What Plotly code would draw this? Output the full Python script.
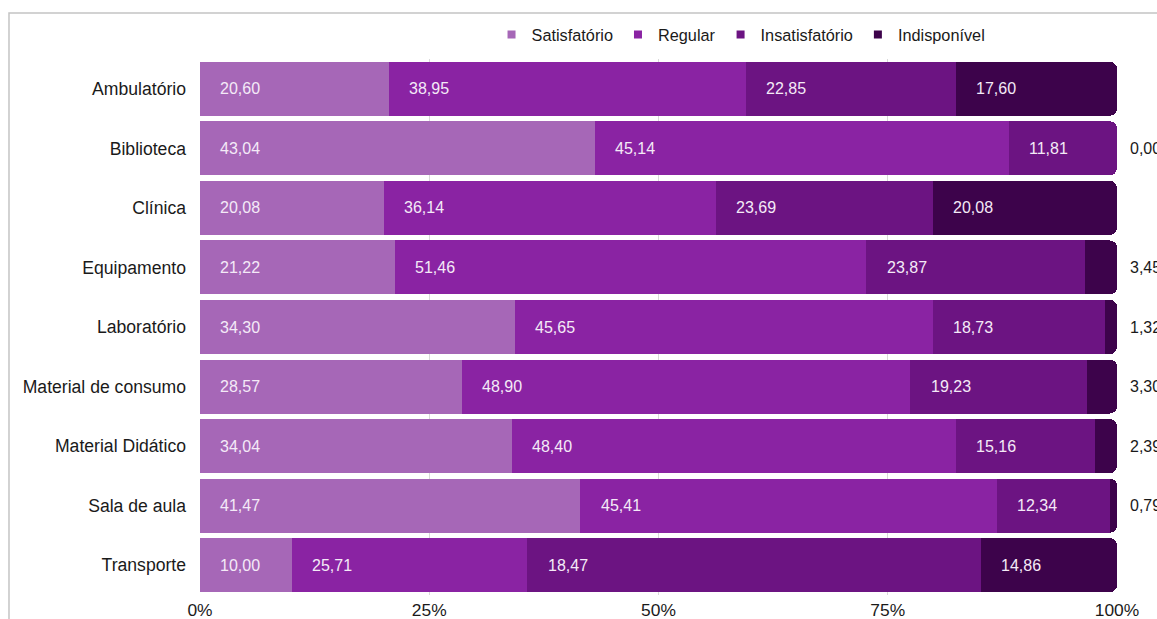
import plotly.graph_objects as go

categories = ["Ambulatório", "Biblioteca", "Clínica", "Equipamento", "Laboratório",
              "Material de consumo", "Material Didático", "Sala de aula", "Transporte"]

series_names = ["Satisfatório", "Regular", "Insatisfatório", "Indisponível"]
series_colors = ["#a667b7", "#8a23a3", "#6c1482", "#3d034b"]

# bar widths (percent of each row), as drawn
satisfatorio = [20.60, 43.04, 20.08, 21.22, 34.30, 28.57, 34.04, 41.47, 10.00]
regular = [38.95, 45.14, 36.14, 51.46, 45.65, 48.90, 48.40, 45.41, 25.71]
insatisfatorio = [22.85, 11.81, 23.69, 23.87, 18.73, 19.23, 15.16, 12.34, 49.43]
indisponivel = [17.60, 0.00, 20.08, 3.45, 1.32, 3.30, 2.39, 0.79, 14.86]

# data labels as printed on the chart
labels_satisfatorio = ["20,60", "43,04", "20,08", "21,22", "34,30", "28,57", "34,04", "41,47", "10,00"]
labels_regular = ["38,95", "45,14", "36,14", "51,46", "45,65", "48,90", "48,40", "45,41", "25,71"]
labels_insatisfatorio = ["22,85", "11,81", "23,69", "23,87", "18,73", "19,23", "15,16", "12,34", "18,47"]
labels_indisponivel = ["17,60", "0,00", "20,08", "3,45", "1,32", "3,30", "2,39", "0,79", "14,86"]

x_tickvals = [0, 25, 50, 75, 100]
x_ticktext = ["0%", "25%", "50%", "75%", "100%"]

values = [satisfatorio, regular, insatisfatorio, indisponivel]
labels = [labels_satisfatorio, labels_regular, labels_insatisfatorio, labels_indisponivel]

FONT = "Liberation Sans, Arial, sans-serif"
fig = go.Figure()

for name, vals, color in zip(series_names, values, series_colors):
    fig.add_trace(go.Bar(
        y=categories, x=vals, orientation="h", name=name,
        marker=dict(color=color, line=dict(width=0)),
        showlegend=False, hoverinfo="x+y+name",
    ))

# legend entries (small square markers)
for name, color in zip(series_names, series_colors):
    fig.add_trace(go.Scatter(
        x=[None], y=[None], mode="markers", name=name,
        marker=dict(symbol="square", size=8, color=color),
        showlegend=True,
    ))

annotations = []
starts = [0.0] * len(categories)
for vals, labs in zip(values, labels):
    for j, cat in enumerate(categories):
        v = vals[j]
        if v >= 5:
            annotations.append(dict(
                x=starts[j] + 4.4, y=cat, xref="x", yref="y", text=labs[j],
                showarrow=False, xanchor="center", yanchor="middle",
                font=dict(family=FONT, size=16, color="#f4eaf7"),
            ))
        else:
            annotations.append(dict(
                x=100, y=cat, xref="x", yref="y", text=labs[j], xshift=11,
                showarrow=False, xanchor="left", yanchor="middle",
                font=dict(family=FONT, size=16, color="#1a1a1a"),
            ))
        starts[j] += v

fig.update_layout(
    width=1157, height=619, autosize=False,
    margin=dict(l=200, r=40, t=59, b=24, autoexpand=False),
    paper_bgcolor="white", plot_bgcolor="white",
    barmode="stack", bargap=0.093, barcornerradius=7,
    font=dict(family=FONT, size=16, color="#1a1a1a"),
    legend=dict(orientation="h", x=0.59, xanchor="center", y=1.045, yanchor="middle",
                font=dict(family=FONT, size=16.3, color="#1a1a1a"),
                bgcolor="rgba(0,0,0,0)", traceorder="normal"),
    annotations=annotations,
    shapes=[dict(type="rect", xref="paper", yref="paper",
                 x0=-0.2083, x1=1.4, y0=-0.4, y1=1.0858,
                 line=dict(color="#c4c4c4", width=1.5), layer="below")],
    xaxis=dict(range=[0, 100], tickvals=x_tickvals, ticktext=x_ticktext,
               showgrid=True, gridcolor="#d9d9d9", gridwidth=1,
               zeroline=False, showline=False, fixedrange=True, automargin=False,
               ticklabelstandoff=3,
               tickfont=dict(family=FONT, size=17.4, color="#1a1a1a")),
    yaxis=dict(autorange="reversed", showgrid=False, zeroline=False, showline=False,
               fixedrange=True, automargin=False, ticklabelstandoff=13,
               tickfont=dict(family=FONT, size=17.6, color="#1a1a1a")),
)

fig.write_html(
    "out.html",
    config={"displayModeBar": False},
    post_script="document.body.style.margin='0';document.body.style.overflow='hidden';",
)
